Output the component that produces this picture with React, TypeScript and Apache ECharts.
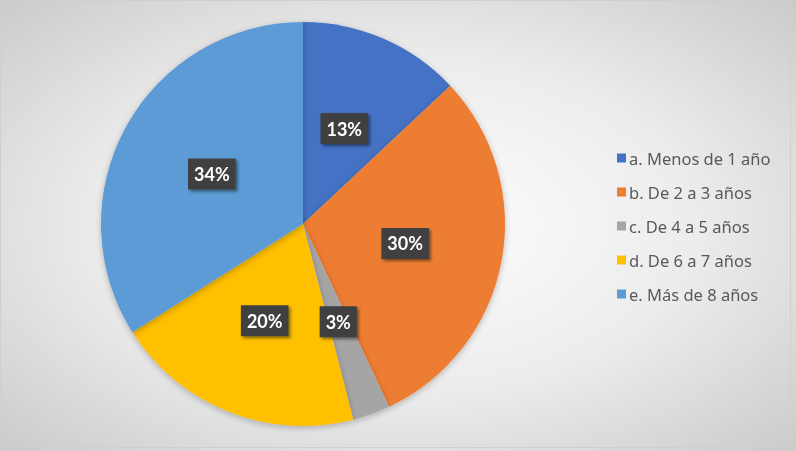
import React, { useEffect, useRef } from "react";
import * as echarts from "echarts";

const categories = [
  "a. Menos de 1 año",
  "b. De 2 a 3 años",
  "c. De 4 a 5 años",
  "d. De 6 a 7 años",
  "e. Más de 8 años",
];
const values = [13, 30, 3, 20, 34];
const colors = ["#4472C4", "#ED7D31", "#A5A5A5", "#FFC000", "#5B9BD5"];

export default function App() {
  const ref = useRef<HTMLDivElement>(null);
  useEffect(() => {
    if (!ref.current) return;
    const chart = echarts.init(ref.current, null, { renderer: "svg" });
    chart.setOption({
      animation: false,
      backgroundColor: new echarts.graphic.RadialGradient(0.5, 0.5, 0.75, [
        { offset: 0, color: "#ffffff" },
        { offset: 0.5, color: "#ececec" },
        { offset: 1, color: "#c6c6c6" },
      ]),
      graphic: [
        {
          type: "rect",
          shape: { x: 0.5, y: 0.5, width: 790, height: 447 },
          style: { fill: "none", stroke: "#cfcfcf", lineWidth: 1 },
          silent: true,
        },
      ],
      legend: {
        orient: "vertical",
        left: 612,
        top: 143,
        icon: "rect",
        itemWidth: 9,
        itemHeight: 9,
        itemGap: 14,
        data: categories,
        textStyle: {
          fontFamily: "'Noto Sans', sans-serif",
          fontSize: 16.5,
          lineHeight: 20,
          color: "#595959",
          padding: [0, 0, 0, -2],
        },
      },
      series: [
        {
          type: "pie",
          center: [303, 224],
          radius: 202,
          startAngle: 90,
          clockwise: true,
          data: categories.map((c, i) => ({
            name: c,
            value: values[i],
            itemStyle: { color: colors[i] },
          })),
          itemStyle: {
            shadowBlur: 6,
            shadowColor: "rgba(0,0,0,0.25)",
            shadowOffsetY: 2,
          },
          label: {
            show: true,
            position: "inside",
            formatter: (p: any) => p.value + "%",
            color: "#ffffff",
            fontFamily: "Lato, 'Open Sans', sans-serif",
            fontWeight: "bold",
            fontSize: 18,
            backgroundColor: "#404040",
            padding: [7, 6, 6, 6],
            shadowBlur: 3,
            shadowOffsetX: 2,
            shadowOffsetY: 2,
            shadowColor: "rgba(0,0,0,0.45)",
          },
          labelLine: { show: false },
          emphasis: { disabled: true },
        },
      ],
    });
    return () => chart.dispose();
  }, []);
  return (
    <div
      ref={ref}
      style={{ position: "fixed", left: 0, top: 0, width: 796, height: 451 }}
    />
  );
}
